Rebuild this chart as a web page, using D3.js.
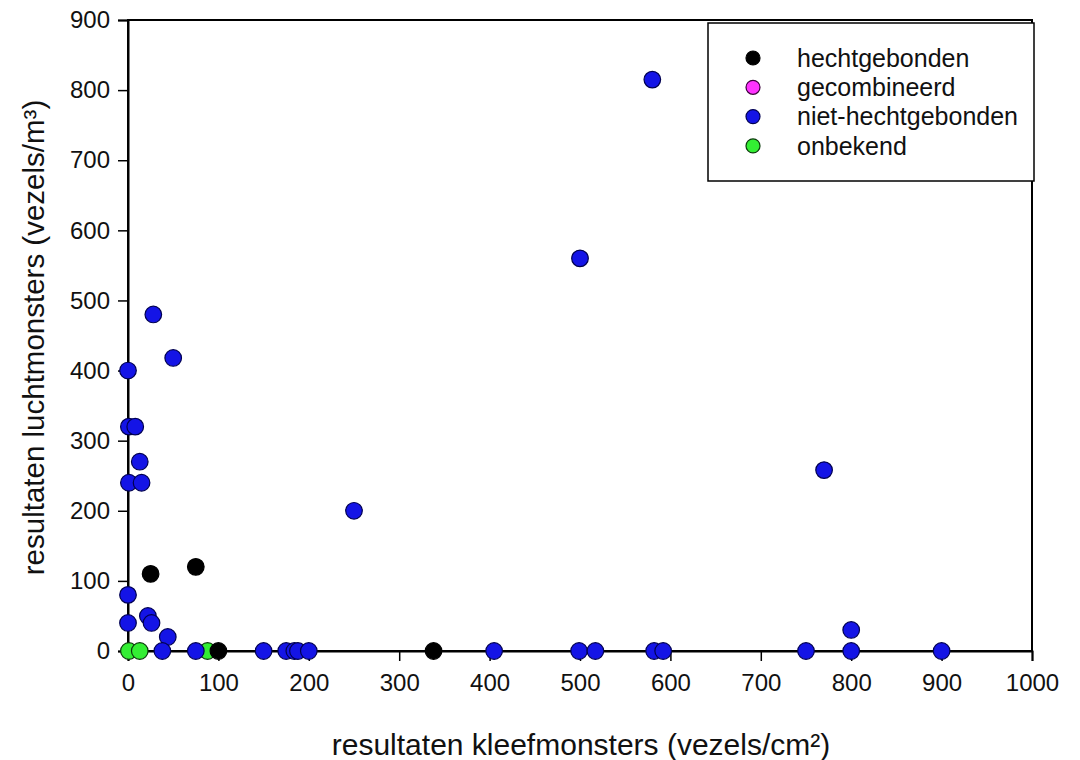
<!DOCTYPE html>
<html>
<head>
<meta charset="utf-8">
<script src="https://cdn.jsdelivr.net/npm/d3@7"></script>
<style>
  html, body { margin: 0; padding: 0; background: #fff; }
  svg { display: block; font-family: "Liberation Sans", Arial, sans-serif; }
</style>
</head>
<body>
<svg id="chart" width="1080" height="760"></svg>
<script>
// Series: [kleefmonster (vezels/cm²), luchtmonster (vezels/m³)]
const hechtgebonden = [
  [25, 110], [75, 120], [100, 0], [338, 0]
];
const gecombineerd = [];
const nietHechtgebonden = [
  [580, 815], [500, 560], [770, 258], [250, 200],
  [28, 480], [50, 418], [0, 400],
  [1, 320], [8, 320], [13, 270], [1, 240], [15, 240],
  [0, 80], [22, 50], [26, 40], [0, 40], [44, 20],
  [38, 0], [75, 0], [150, 0], [175, 0], [184, 0], [188, 0], [200, 0],
  [405, 0], [499, 0], [517, 0], [582, 0], [592, 0],
  [750, 0], [800, 0], [800, 30], [900, 0]
];
const onbekend = [
  [1, 0], [13, 0], [88, 0]
];

const seriesNames = ["hechtgebonden", "gecombineerd", "niet-hechtgebonden", "onbekend"];
const seriesColors = ["#000000", "#ff33ff", "#1414e6", "#33ee33"];
const seriesStroke = ["#000000", "#3a003a", "#000050", "#0a3a0a"];
const seriesData = [hechtgebonden, gecombineerd, nietHechtgebonden, onbekend];
const drawOrder = [3, 1, 2, 0];

const xTicks = [0, 100, 200, 300, 400, 500, 600, 700, 800, 900, 1000];
const yTicks = [0, 100, 200, 300, 400, 500, 600, 700, 800, 900];
const xTitle = "resultaten kleefmonsters (vezels/cm²)";
const yTitle = "resultaten luchtmonsters (vezels/m³)";

const svg = d3.select("#chart");
const plot = { left: 128, right: 1032, top: 20, bottom: 651 };

const x = d3.scaleLinear().domain([0, 1000]).range([plot.left, plot.right]);
const y = d3.scaleLinear().domain([0, 900]).range([plot.bottom, plot.top]);

// Frame
svg.append("rect")
  .attr("x", plot.left).attr("y", plot.top)
  .attr("width", plot.right - plot.left).attr("height", plot.bottom - plot.top)
  .attr("fill", "none").attr("stroke", "#000").attr("stroke-width", 2);

// Axes
const xAxis = svg.append("g")
  .attr("transform", `translate(0,${plot.bottom})`)
  .call(d3.axisBottom(x).tickValues(xTicks).tickSize(10).tickPadding(13).tickFormat(d3.format("d")));
const yAxis = svg.append("g")
  .attr("transform", `translate(${plot.left},0)`)
  .call(d3.axisLeft(y).tickValues(yTicks).tickSize(10).tickPadding(8).tickFormat(d3.format("d")));

[xAxis, yAxis].forEach(g => {
  g.select(".domain").attr("stroke-width", 2);
  g.selectAll(".tick line").attr("stroke-width", 1.5);
  g.selectAll(".tick text")
    .attr("font-size", 24)
    .attr("font-family", "Liberation Sans, Arial, sans-serif")
    .attr("fill", "#111");
});

// Axis titles
svg.append("text")
  .attr("x", (plot.left + plot.right) / 2 + 1)
  .attr("y", 755)
  .attr("text-anchor", "middle")
  .attr("font-size", 30)
  .attr("fill", "#111")
  .text(xTitle);

svg.append("text")
  .attr("transform", `translate(44,${(plot.top + plot.bottom) / 2 + 2}) rotate(-90)`)
  .attr("text-anchor", "middle")
  .attr("font-size", 29.5)
  .attr("fill", "#111")
  .text(yTitle);

// Points
drawOrder.forEach(i => {
  svg.append("g")
    .selectAll("circle")
    .data(seriesData[i])
    .join("circle")
    .attr("cx", d => x(d[0]))
    .attr("cy", d => y(d[1]))
    .attr("r", 8.3)
    .attr("fill", seriesColors[i])
    .attr("stroke", seriesStroke[i])
    .attr("stroke-width", 1.2);
});

// Legend
const legend = svg.append("g").attr("transform", "translate(708,23)");
legend.append("rect")
  .attr("width", 326).attr("height", 158)
  .attr("fill", "#fff").attr("stroke", "#000").attr("stroke-width", 1.5);
seriesNames.forEach((name, i) => {
  const row = legend.append("g").attr("transform", `translate(0,${35 + i * 29.3})`);
  row.append("circle")
    .attr("cx", 45).attr("cy", 0).attr("r", 7)
    .attr("fill", seriesColors[i])
    .attr("stroke", seriesStroke[i]).attr("stroke-width", 1.2);
  row.append("text")
    .attr("x", 89).attr("y", 0).attr("dy", "0.35em")
    .attr("font-size", 25).attr("fill", "#111")
    .text(name);
});
</script>
</body>
</html>
